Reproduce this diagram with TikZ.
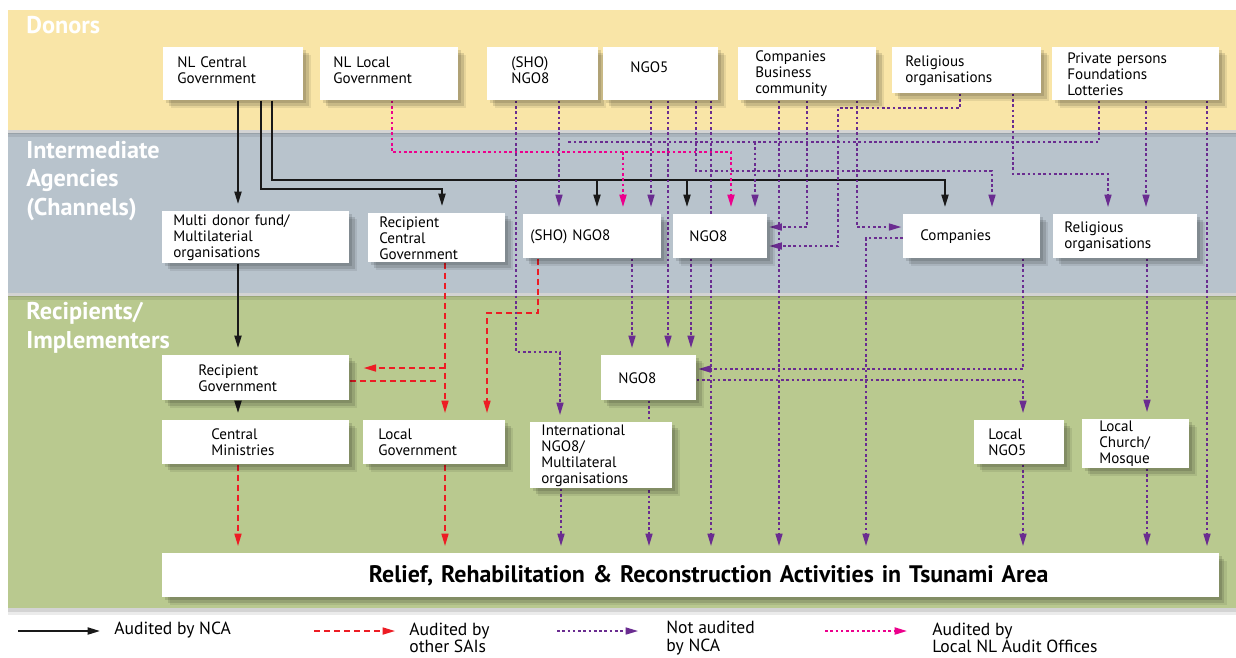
\documentclass[tikz,border=0pt]{standalone}
\usepackage{fontspec}
\setmainfont{PT Sans}
\usetikzlibrary{arrows.meta}

\definecolor{donorbg}{HTML}{F9E5A7}
\definecolor{interbg}{HTML}{B8C3CC}
\definecolor{recipbg}{HTML}{B9C98F}
\definecolor{napurple}{HTML}{6A2C90}
\definecolor{saired}{HTML}{ED1C24}
\definecolor{nlpink}{HTML}{EC008C}

\pgfdeclarelayer{bands}
\pgfdeclarelayer{lines}
\pgfsetlayers{bands,lines,main}

\begin{document}
\begin{tikzpicture}[x=0.02cm, y=-0.02cm,
    softshadow/.style={
        preaction={fill=black, opacity=0.12, transform canvas={xshift=1.5pt, yshift=-1.5pt}},
        preaction={fill=black, opacity=0.12, transform canvas={xshift=3pt, yshift=-3pt}},
        preaction={fill=black, opacity=0.08, transform canvas={xshift=4.5pt, yshift=-4.5pt}}},
    bandshadow/.style={
        preaction={fill=black, opacity=0.10, transform canvas={yshift=-2pt}},
        preaction={fill=black, opacity=0.08, transform canvas={yshift=-4pt}}},
    box/.style={fill=white, softshadow, anchor=north west, inner ysep=0pt, align=left,
        font=\fontsize{8.6}{9.1}\selectfont},
    bandlabel/.style={text=white, inner sep=0pt, align=left,
        font=\bfseries\fontsize{13.8}{16.4}\selectfont},
    legtext/.style={inner sep=0pt, align=left, font=\fontsize{10}{10}\selectfont},
    tip/.style={-{Triangle[length=7pt,width=4pt]}},
    nca/.style={draw=black!90, line width=1pt, tip, shorten >=4pt},
    sai/.style={draw=saired, line width=0.85pt, dash pattern=on 3.4pt off 2.3pt, tip, shorten >=4pt},
    notnca/.style={draw=napurple, line width=0.8pt, dash pattern=on 1.5pt off 1.5pt, tip, shorten >=4pt},
    nlao/.style={draw=nlpink, line width=1pt, dash pattern=on 1.5pt off 1.5pt, tip, shorten >=4pt}]

    \useasboundingbox (0,0) rectangle (1236,657);

    % Bands (drawn bottom first so the shadows fall on the next one)
    \begin{pgfonlayer}{bands}
        \fill[white] (0,0) rectangle (1236,657);
        \fill[recipbg, bandshadow] (8,296) rectangle (1236,608);
        \fill[interbg, bandshadow] (8,133) rectangle (1236,293);
        \fill[donorbg, bandshadow] (8,10) rectangle (1236,130);
    \end{pgfonlayer}

    % Band titles
    \node[bandlabel, anchor=west] (donlab) at (26,25) {Donors};
    \node[bandlabel, anchor=west] (intlab) at (26,181) {Intermediate\\Agencies\\(Channels)};
    \node[bandlabel, anchor=west] (reclab) at (26,328) {Recipients/\\Implementers};

    % Donors
    \node[box, inner xsep=0.28cm, text width=2.24cm, minimum height=1.06cm] (nlcg) at (163,47) {NL Central\\Government\\[-4.5pt]\mbox{}};
    \node[box, inner xsep=0.26cm, text width=2.24cm, minimum height=1.06cm] (nllg) at (320,47) {NL Local\\Government\\[-4.5pt]\mbox{}};
    \node[box, inner xsep=0.48cm, text width=1.26cm, minimum height=1.06cm] (shod) at (487,47) {(SHO)\\NGO8\\[-4.5pt]\mbox{}};
    \node[box, inner xsep=0.54cm, text width=1.22cm, minimum height=1.06cm] (ngo5d) at (603,47) {NGO5\\[-2pt]\mbox{}};
    \node[box, inner xsep=0.34cm, text width=2.08cm, minimum height=1.06cm] (compd) at (738,47) {Companies\\Business\\community};
    \node[box, inner xsep=0.26cm, text width=2.46cm, minimum height=0.92cm] (relid) at (892,47) {Religious\\organisations};
    \node[box, inner xsep=0.30cm, text width=2.74cm, minimum height=1.06cm] (privd) at (1052,47) {Private persons\\Foundations\\Lotteries};

    % Intermediate agencies
    \node[box, inner xsep=0.22cm, text width=3.30cm, minimum height=1.04cm] (mdf) at (162,211) {Multi donor fund/\\Multilaterial\\organisations};
    \node[box, inner xsep=0.22cm, text width=2.30cm, minimum height=0.98cm] (rcg) at (368,213) {Recipient\\Central\\Government};
    \node[box, inner xsep=0.14cm, text width=2.48cm, minimum height=0.88cm] (shoi) at (523,214) {(SHO) NGO8};
    \node[box, inner xsep=0.32cm, text width=1.24cm, minimum height=0.88cm] (ngo8i) at (673,214) {NGO8};
    \node[box, inner xsep=0.34cm, text width=2.06cm, minimum height=0.88cm] (compi) at (903,214) {Companies};
    \node[box, inner xsep=0.22cm, text width=2.44cm, minimum height=0.88cm] (relii) at (1053,214) {Religious\\organisations};

    % Recipients / implementers
    \node[box, inner xsep=0.72cm, text width=2.30cm, minimum height=0.90cm] (rgov) at (162,355) {Recipient\\Government};
    \node[box, inner xsep=0.98cm, text width=1.78cm, minimum height=0.88cm] (cmin) at (162,420) {Central\\Ministries};
    \node[box, inner xsep=0.30cm, text width=2.24cm, minimum height=0.88cm] (lgov) at (363,420) {Local\\Government};
    \node[box, inner xsep=0.22cm, text width=2.40cm, minimum height=1.32cm] (intl) at (530,422) {International\\NGO8/\\Multilateral\\organisations};
    \node[box, inner xsep=0.34cm, text width=1.22cm, minimum height=0.90cm] (ngo8r) at (601,355) {NGO8};
    \node[box, inner xsep=0.28cm, text width=1.24cm, minimum height=0.88cm] (lngo5) at (974,420) {Local\\NGO5};
    \node[box, inner xsep=0.34cm, text width=1.46cm, minimum height=0.98cm] (lchurch) at (1082,419) {Local\\Church/\\Mosque};

    % Activities
    \node[box, inner xsep=0pt, text width=21.14cm, minimum height=0.88cm, align=center,
        font=\bfseries\fontsize{13.6}{15}\selectfont] (relief) at (162,553)
        {\hspace*{0.72cm}Relief, Rehabilitation \& Reconstruction Activities in Tsunami Area};

    \begin{pgfonlayer}{lines}
        % Audited by NCA
        \coordinate (ncabus) at (272,180);
        \draw[nca] (238,0 |- nlcg.south) -- (238,0 |- mdf.north);
        \draw[nca] (238,0 |- mdf.south) -- (238,0 |- rgov.north);
        \draw[nca] (238,0 |- rgov.south) -- (238,0 |- cmin.north);
        \draw[nca] (261,0 |- nlcg.south) |- (442,189) -- (442,0 |- rcg.north);
        \draw[nca] (272,0 |- nlcg.south) -- (ncabus) -| (945,0 |- compi.north);
        \draw[nca] (597,0 |- ncabus) -- (597,0 |- shoi.north);
        \draw[nca] (687,0 |- ncabus) -- (687,0 |- ngo8i.north);

        % Audited by other SAIs
        \draw[sai] (445,0 |- rcg.south) -- (445,0 |- lgov.north);
        \draw[sai, shorten >=8pt] (445,368) -- (rgov.east |- 0,368);
        \draw[sai, -] (rgov.east |- 0,381) -- (445,381);
        \draw[sai] (538,0 |- shoi.south) -- (538,313) -| (487,0 |- lgov.north);
        \draw[sai] (238,0 |- cmin.south) -- (238,0 |- relief.north);
        \draw[sai] (445,0 |- lgov.south) -- (445,0 |- relief.north);

        % Audited by local NL audit offices
        \coordinate (nlaobus) at (731,152);
        \draw[nlao] (392,0 |- nllg.south) |- (nlaobus) -- (731,0 |- ngo8i.north);
        \draw[nlao] (623,0 |- nlaobus) -- (623,0 |- shoi.north);

        % Not audited by NCA
        \coordinate (privbus) at (559,142);
        \draw[notnca] (516,0 |- shod.south) |- (560,352) -- (560,0 |- intl.north);
        \draw[notnca] (559,0 |- shod.south) -- (559,0 |- shoi.north);
        \draw[notnca, -] (1099,0 |- privd.south) |- (privbus);
        \draw[notnca] (755,0 |- privbus) -- (755,0 |- ngo8i.north);
        \draw[notnca] (651,0 |- ngo5d.south) -- (651,0 |- shoi.north);
        \draw[notnca] (668,0 |- ngo5d.south) -- (668,0 |- ngo8r.north);
        \draw[notnca] (696,0 |- ngo5d.south) |- (992,171) -- (992,0 |- compi.north);
        \draw[notnca] (711,0 |- ngo5d.south) -- (711,0 |- relief.north);
        \draw[notnca] (779,0 |- compd.south) -- (779,0 |- relief.north);
        \draw[notnca, shorten >=1pt] (807,0 |- compd.south) |- (ngo8i.east |- 0,227);
        \draw[notnca, shorten >=1pt] (857,0 |- compd.south) |- (compi.west |- 0,227);
        \draw[notnca, shorten >=1pt] (960,0 |- relid.south) |- (838,108) |- (ngo8i.east |- 0,246);
        \draw[notnca] (compi.west |- 0,238) -| (866,0 |- relief.north);
        \draw[notnca] (1013,0 |- relid.south) |- (1108,174) -- (1108,0 |- relii.north);
        \draw[notnca] (1146,0 |- privd.south) -- (1146,0 |- relii.north);
        \draw[notnca] (1207,0 |- privd.south) -- (1207,0 |- relief.north);
        \draw[notnca] (632,0 |- shoi.south) -- (632,0 |- ngo8r.north);
        \draw[notnca] (691,0 |- ngo8i.south) -- (691,0 |- ngo8r.north);
        \draw[notnca, shorten >=1pt] (1023,0 |- compi.south) |- (ngo8r.east |- 0,369);
        \draw[notnca] (ngo8r.east |- 0,380) -| (1023,0 |- lngo5.north);
        \draw[notnca] (1147,0 |- relii.south) -- (1147,0 |- lchurch.north);
        \draw[notnca] (561,0 |- intl.south) -- (561,0 |- relief.north);
        \draw[notnca] (649,0 |- ngo8r.south) -- (649,0 |- relief.north);
        \draw[notnca] (1023,0 |- lngo5.south) -- (1023,0 |- relief.north);
        \draw[notnca] (1147,0 |- lchurch.south) -- (1147,0 |- relief.north);
    \end{pgfonlayer}

    % Legend
    \coordinate (lgnca1) at (18,631);   \coordinate (lgnca2) at (100,631);
    \coordinate (lgsai1) at (314,631);  \coordinate (lgsai2) at (395,631);
    \coordinate (lgnot1) at (557,631);  \coordinate (lgnot2) at (638,631);
    \coordinate (lgnlao1) at (825,631); \coordinate (lgnlao2) at (907,631);
    \draw[nca, shorten >=0pt] (lgnca1) -- (lgnca2);
    \draw[sai, shorten >=0pt] (lgsai1) -- (lgsai2);
    \draw[notnca, shorten >=0pt] (lgnot1) -- (lgnot2);
    \draw[nlao, shorten >=0pt] (lgnlao1) -- (lgnlao2);
    \node[legtext, anchor=west] (lgncatxt) at (114,630) {Audited by NCA};
    \node[legtext, anchor=west] (lgsaitxt) at (409,638) {Audited by\\other SAIs};
    \node[legtext, anchor=west] (lgnottxt) at (666,638) {Not audited\\by NCA};
    \node[legtext, anchor=west] (lgnlaotxt) at (932,638) {Audited by\\Local NL Audit Offices};
\end{tikzpicture}
\end{document}
